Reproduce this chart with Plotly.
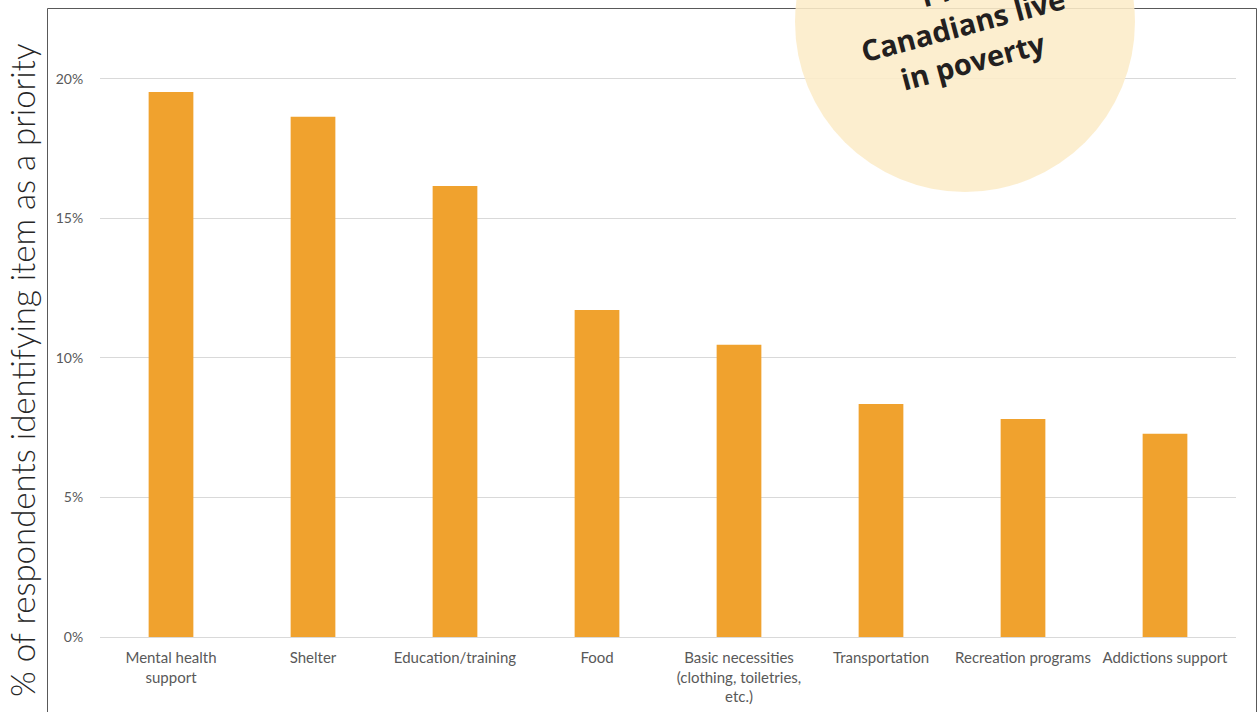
import plotly.graph_objects as go

categories = [
    "Mental health<br>support",
    "Shelter",
    "Education/training",
    "Food",
    "Basic necessities<br>(clothing, toiletries,<br>etc.)",
    "Transportation",
    "Recreation programs",
    "Addictions support",
]
values = [0.1953, 0.1864, 0.1616, 0.1172, 0.1047, 0.0835, 0.0781, 0.0728]
y_ticks = [0, 0.05, 0.10, 0.15, 0.20]
y_tick_text = ["0%", "5%", "10%", "15%", "20%"]
y_title = "% of respondents identifying item as a priority"
badge_text = "1 in 7<br>Canadians live<br>in poverty"

W, H = 1259, 712
L, R, T, B = 100, 23, 8, 75
pw, ph = W - L - R, H - T - B

def px_x(x):
    return (x - L) / pw

def px_y(y):
    return (H - B - y) / ph

fig = go.Figure(
    go.Bar(
        x=categories,
        y=values,
        marker=dict(color="#F0A22E", line=dict(width=0)),
        width=0.315,
        hoverinfo="skip",
    )
)

fig.update_layout(
    width=W,
    height=H,
    margin=dict(l=L, r=R, t=T, b=B, pad=0),
    paper_bgcolor="white",
    plot_bgcolor="white",
    showlegend=False,
    xaxis=dict(
        tickfont=dict(family="Lato", size=15, color="#595959"),
        showgrid=False,
        showline=False,
        zeroline=False,
        ticks="outside",
        ticklen=7,
        tickcolor="rgba(0,0,0,0)",
        fixedrange=True,
    ),
    yaxis=dict(
        range=[0, 0.2254],
        tickvals=y_ticks,
        ticktext=y_tick_text,
        tickfont=dict(family="Lato", size=14, color="#595959"),
        showgrid=True,
        gridcolor="#D9D9D9",
        gridwidth=1,
        zeroline=True,
        zerolinecolor="#D9D9D9",
        zerolinewidth=1,
        showline=False,
        ticks="outside",
        ticklen=13,
        tickcolor="rgba(0,0,0,0)",
        fixedrange=True,
    ),
    shapes=[
        dict(
            type="rect",
            xref="paper",
            yref="paper",
            x0=px_x(47.5),
            x1=px_x(1256.5),
            y0=px_y(730),
            y1=px_y(8.5),
            line=dict(color="#595959", width=1),
            fillcolor="rgba(0,0,0,0)",
            layer="above",
        ),
        dict(
            type="circle",
            xref="paper",
            yref="paper",
            x0=px_x(795),
            x1=px_x(1135),
            y0=px_y(192),
            y1=px_y(-148),
            line=dict(width=0),
            fillcolor="rgba(252,236,200,0.88)",
            layer="above",
        ),
    ],
    annotations=[
        dict(
            text=y_title,
            xref="paper",
            yref="paper",
            x=px_x(22),
            y=px_y(371),
            xanchor="center",
            yanchor="middle",
            textangle=-90,
            showarrow=False,
            font=dict(family="Lato", size=33, color="#262626", weight=300),
        ),
        dict(
            text="<b>" + badge_text + "</b>",
            xref="paper",
            yref="paper",
            x=px_x(963),
            y=px_y(24),
            xanchor="center",
            yanchor="middle",
            textangle=-15,
            showarrow=False,
            font=dict(family="Open Sans", size=29, color="#231F20"),
        ),
    ],
)

fig.write_html(
    "out.html",
    config={"displayModeBar": False, "staticPlot": True},
    post_script="document.body.style.margin='0';document.body.style.overflow='hidden';",
)
